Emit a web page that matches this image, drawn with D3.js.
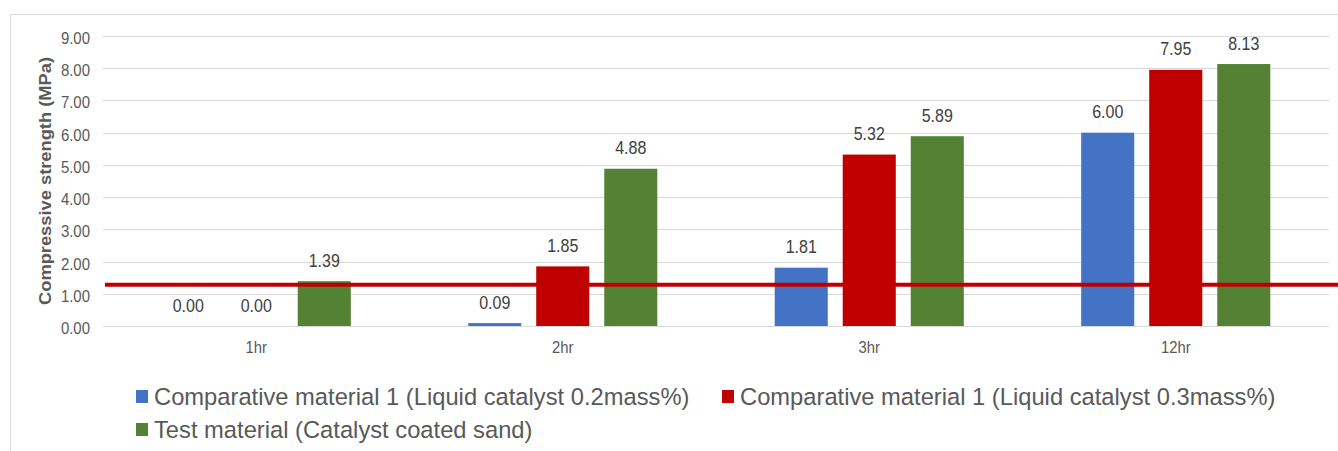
<!DOCTYPE html>
<html>
<head>
<meta charset="utf-8">
<script src="https://cdn.jsdelivr.net/npm/d3@7/dist/d3.min.js"></script>
<style>
  html, body { margin: 0; padding: 0; background: #fff; }
  svg { display: block; font-family: "Liberation Sans", Arial, sans-serif; }
</style>
</head>
<body>
<svg id="chart" width="1338" height="451"></svg>
<script>
// Curing time groups
const categories = ["1hr", "2hr", "3hr", "12hr"];
// Series names (legend order)
const seriesNames = [
  "Comparative material 1 (Liquid catalyst 0.2mass%)",
  "Comparative material 1 (Liquid catalyst 0.3mass%)",
  "Test material (Catalyst coated sand)"
];
// Compressive strength (MPa) per series, one value per category
const liquid02 = [0.00, 0.09, 1.81, 6.00];
const liquid03 = [0.00, 1.85, 5.32, 7.95];
const coatedSand = [1.39, 4.88, 5.89, 8.13];
// Required strength reference line (MPa)
const thresholdValue = 1.28;
// Y axis ticks
const yTicks = [0, 1, 2, 3, 4, 5, 6, 7, 8, 9];

const seriesValues = [liquid02, liquid03, coatedSand];
const colors = ["#4472C4", "#C00000", "#548235"];
const fmt = d3.format(".2f");

const svg = d3.select("#chart");

// Narrow text: place at (x, y) and squeeze horizontally by k
function narrowText(parent, x, y, str, opts) {
  return parent.append("text")
    .attr("transform", `translate(${x},${y}) scale(${opts.k},1)`)
    .attr("text-anchor", opts.anchor || "start")
    .attr("fill", opts.fill || "#595959")
    .style("font-size", opts.size + "px")
    .style("font-weight", opts.weight || "normal")
    .text(str);
}

// outer chart frame
svg.append("rect")
  .attr("x", 10.5).attr("y", 14.5)
  .attr("width", 1340).attr("height", 460)
  .attr("fill", "none").attr("stroke", "#d9d9d9").attr("stroke-width", 1);

const plot = { left: 103, right: 1329, top: 36, bottom: 326 };

const y = d3.scaleLinear().domain([0, 9]).range([plot.bottom, plot.top]);
const x0 = d3.scaleBand().domain(categories)
  .range([plot.left, plot.right]).paddingInner(0.383).paddingOuter(0.1915);
const x1 = d3.scaleBand().domain(d3.range(seriesNames.length))
  .range([0, x0.bandwidth()]).paddingInner(0.22).paddingOuter(0);

// gridlines
svg.append("g").selectAll("line").data(yTicks).join("line")
  .attr("x1", plot.left).attr("x2", plot.right)
  .attr("y1", d => Math.round(y(d)) + 0.5).attr("y2", d => Math.round(y(d)) + 0.5)
  .attr("stroke", "#d9d9d9").attr("stroke-width", 1);

// y axis tick labels
const gy = svg.append("g");
yTicks.forEach(t => {
  narrowText(gy, 90, y(t) + 8, fmt(t), { k: 0.88, size: 17, anchor: "end" });
});

// y axis title
svg.append("text")
  .attr("transform", `translate(45,${(plot.top + plot.bottom) / 2}) rotate(-90)`)
  .attr("text-anchor", "middle")
  .attr("dy", "0.35em")
  .attr("fill", "#595959").style("font-size", "16px").style("font-weight", "bold")
  .attr("textLength", 248).attr("lengthAdjust", "spacingAndGlyphs")
  .text("Compressive strength (MPa)");

// category labels
const gx = svg.append("g");
categories.forEach(c => {
  narrowText(gx, x0(c) + x0.bandwidth() / 2, 352.5, c, { k: 0.9, size: 16.5, anchor: "middle" });
});

// bars + value labels
const groups = svg.append("g").selectAll("g").data(categories).join("g")
  .attr("transform", d => `translate(${x0(d)},0)`);

groups.each(function(cat, ci) {
  const g = d3.select(this);
  seriesValues.forEach((vals, si) => {
    const v = vals[ci];
    g.append("rect")
      .attr("x", x1(si)).attr("width", x1.bandwidth())
      .attr("y", y(v)).attr("height", y(0) - y(v))
      .attr("fill", colors[si]);
    narrowText(g, x1(si) + x1.bandwidth() / 2, y(v) - 14.5, fmt(v),
      { k: 0.89, size: 18, anchor: "middle", fill: "#404040" });
  });
});

// threshold line
svg.append("line")
  .attr("x1", plot.left + 2).attr("x2", 1338)
  .attr("y1", y(thresholdValue)).attr("y2", y(thresholdValue))
  .attr("stroke", "#C00000").attr("stroke-width", 4);

// legend
const legendPos = [[136, 405], [722, 405], [136, 438]];
const legend = svg.append("g");
seriesNames.forEach((name, i) => {
  const [lx, ly] = legendPos[i];
  legend.append("rect")
    .attr("x", lx).attr("y", ly - 15).attr("width", 12).attr("height", 13)
    .attr("fill", colors[i]);
  narrowText(legend, lx + 18, ly, name, { k: 1.01, size: 23.5, anchor: "start" });
});
</script>
</body>
</html>
